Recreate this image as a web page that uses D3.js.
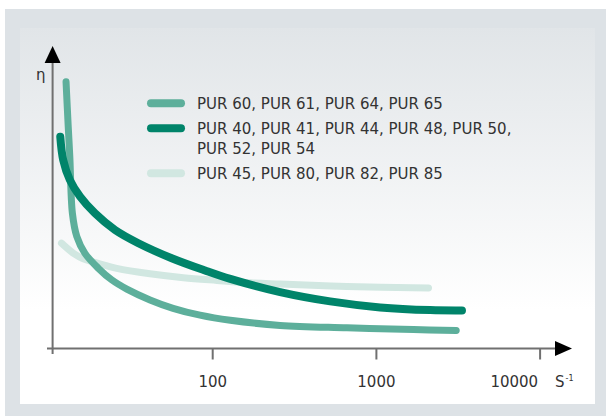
<!DOCTYPE html>
<html>
<head>
<meta charset="utf-8">
<script src="https://cdn.jsdelivr.net/npm/d3@7/dist/d3.min.js"></script>
<style>
  html, body { margin: 0; padding: 0; background: #fff; }
  svg { display: block; }
  text { font-family: "DejaVu Sans", "Open Sans", sans-serif; fill: #333; }
</style>
</head>
<body>
<svg id="chart" width="606" height="416"></svg>
<script>
// ---------------------------------------------------------------------------
// Data (shear rate s^-1 on a log axis, viscosity η in arbitrary units)
// ---------------------------------------------------------------------------

const seriesNames = [
  ["PUR 60, PUR 61, PUR 64, PUR 65"],
  ["PUR 40, PUR 41, PUR 44, PUR 48, PUR 50,", "PUR 52, PUR 54"],
  ["PUR 45, PUR 80, PUR 82, PUR 85"],
];

const pur60Rate = [12.8, 13.2, 13.5, 14.0, 14.9, 16.7, 20.2, 24.3, 30.1, 41.7, 57.7, 84.3, 129, 260, 665, 1697, 3096];
const pur60Eta  = [88.9, 73.9, 63.8, 45.0, 37.3, 31.7, 26.7, 22.9, 19.8, 16.2, 13.4, 11.1, 9.4, 7.7, 6.9, 6.3, 6.0];

const pur40Rate = [11.8, 12.3, 13.5, 15.6, 19.2, 25.5, 35.4, 56.6, 90.5, 129, 260, 526, 1062, 2147, 3356];
const pur40Eta  = [70.6, 62.8, 56.2, 50.6, 45.1, 39.5, 35.1, 30.1, 26.0, 23.2, 18.8, 15.7, 13.7, 12.8, 12.7];

const pur45Rate = [12.0, 14.3, 16.3, 22.2, 26.1, 41.7, 66.7, 107, 171, 260, 665, 2096];
const pur45Eta  = [35.1, 31.6, 29.9, 27.7, 26.7, 24.9, 23.6, 22.7, 21.9, 21.5, 20.7, 20.2];

const xTicks = [100, 1000, 10000];

// ---------------------------------------------------------------------------
// Layout / styles
// ---------------------------------------------------------------------------

const COLORS = ["#5daf9b", "#00846a", "#d1e7e1"];
const WIDTHS = [7, 8, 7];
const AXIS = "#707070";

const svg = d3.select("#chart");

// Backdrop: grey frame + panel fading from grey to white
svg.append("rect").attr("width", 606).attr("height", 416).attr("fill", "#fff");
svg.append("rect").attr("x", 5).attr("y", 9).attr("width", 601).attr("height", 407).attr("fill", "#dde2e6");

const defs = svg.append("defs");
const grad = defs.append("linearGradient")
  .attr("id", "panel").attr("x1", 0).attr("y1", 0).attr("x2", 0).attr("y2", 1);
grad.append("stop").attr("offset", "0%").attr("stop-color", "#e1e5e8");
grad.append("stop").attr("offset", "75%").attr("stop-color", "#ffffff");
grad.append("stop").attr("offset", "100%").attr("stop-color", "#ffffff");
svg.append("rect").attr("x", 20).attr("y", 28).attr("width", 575).attr("height", 376).attr("fill", "url(#panel)");

// Scales
const x = d3.scaleLog().domain([10, 10000]).range([48.5, 539.6]);
const y = d3.scaleLinear().domain([0, 100]).range([348.5, 48.5]);

// ---------------------------------------------------------------------------
// Axes
// ---------------------------------------------------------------------------

const x0 = 52.6;        // position of the η axis
const y0 = y(0);

const xAxis = d3.axisBottom(x)
  .tickValues(xTicks)
  .tickSize(11)
  .tickSizeOuter(0)
  .tickFormat(d3.format("d"));

const gx = svg.append("g").attr("transform", `translate(0,${y0})`).call(xAxis);
gx.select(".domain").remove();
gx.selectAll(".tick line").attr("stroke", AXIS).attr("stroke-width", 2);
gx.selectAll(".tick text")
  .attr("y", 38)
  .attr("dy", 0)
  .style("font-size", "15px")
  .attr("fill", "#333")
  .attr("font-family", null)
  .attr("text-anchor", (d, i) => (i === xTicks.length - 1 ? "end" : "middle"))
  .attr("dx", (d, i) => (i === xTicks.length - 1 ? -2 : 0));

// axis lines
svg.append("line")
  .attr("x1", 47).attr("x2", 558).attr("y1", y0).attr("y2", y0)
  .attr("stroke", AXIS).attr("stroke-width", 2);
svg.append("line")
  .attr("x1", x0).attr("x2", x0).attr("y1", 354).attr("y2", 60)
  .attr("stroke", AXIS).attr("stroke-width", 2);

// arrowheads
svg.append("path")
  .attr("d", `M555,${y0 - 7.5}L572,${y0}L555,${y0 + 7.5}Z`)
  .attr("fill", "#000");
svg.append("path")
  .attr("d", `M${x0 - 8},63L${x0},46L${x0 + 8},63Z`)
  .attr("fill", "#000");

// axis labels
svg.append("text").attr("x", 36).attr("y", 80).style("font-size", "15px").text("η");
const sLab = svg.append("text").attr("x", 555).attr("y", 386.5).style("font-size", "15px");
sLab.append("tspan").text("S");
sLab.append("tspan").attr("dx", 1).attr("dy", -6).style("font-size", "8px").text("-1");

// ---------------------------------------------------------------------------
// Curves
// ---------------------------------------------------------------------------

const line = d3.line()
  .x((d) => x(d[0]))
  .y((d) => y(d[1]))
  .curve(d3.curveCatmullRom.alpha(0.5));

const series = [
  d3.zip(pur45Rate, pur45Eta),
  d3.zip(pur60Rate, pur60Eta),
  d3.zip(pur40Rate, pur40Eta),
];
const order = [2, 0, 1]; // draw light first, dark on top

series.forEach((pts, i) => {
  const k = order[i];
  svg.append("path")
    .attr("d", line(pts))
    .attr("fill", "none")
    .attr("stroke", COLORS[k])
    .attr("stroke-width", WIDTHS[k])
    .attr("stroke-linecap", "round")
    .attr("stroke-linejoin", "round");
});

// ---------------------------------------------------------------------------
// Legend
// ---------------------------------------------------------------------------

const legendY = [103.3, 128.3, 173.3];
const legend = svg.append("g");
seriesNames.forEach((lines, i) => {
  legend.append("line")
    .attr("x1", 151).attr("x2", 181)
    .attr("y1", legendY[i]).attr("y2", legendY[i])
    .attr("stroke", COLORS[i]).attr("stroke-width", 8)
    .attr("stroke-linecap", "round");
  const t = legend.append("text")
    .attr("x", 197)
    .attr("y", legendY[i] + 5.5)
    .style("font-size", "15px");
  lines.forEach((s, j) => {
    t.append("tspan").attr("x", 197).attr("dy", j === 0 ? 0 : 20).text(s);
  });
});
</script>
</body>
</html>
